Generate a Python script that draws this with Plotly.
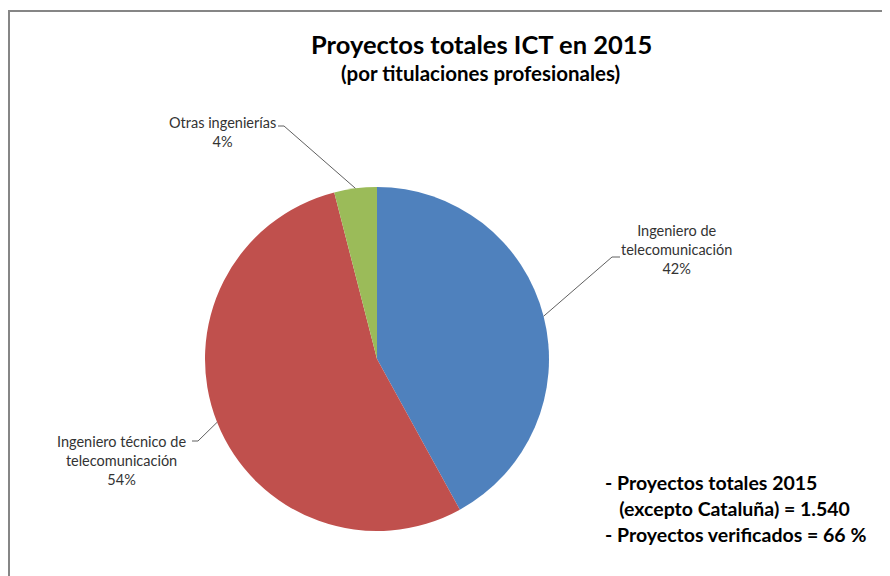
import math
import plotly.graph_objects as go

# ---- data ----
labels = ["Ingeniero de<br>telecomunicación", "Ingeniero técnico de<br>telecomunicación", "Otras ingenierías"]
values = [42, 54, 4]
colors = ["#4F81BD", "#C0504D", "#9BBB59"]
title_text = "Proyectos totales ICT en 2015"
subtitle_text = "(por titulaciones profesionales)"
note_lines = ["- Proyectos totales 2015", "   (excepto Cataluña) = 1.540", "- Proyectos verificados = 66 %"]

W, H = 890, 576
OFF = 8  # page body margin
CX, CY, R = 377, 359, 172  # pie centre / radius in screen pixels (layout)

def px(x):
    return (x - OFF) / W

def py(y):
    return 1 - (y - OFF) / H

FONT = "Lato, 'Open Sans', sans-serif"

fig = go.Figure(go.Pie(
    labels=[l.replace("<br>", " ") for l in labels],
    values=values,
    marker=dict(colors=colors, line=dict(width=0)),
    sort=False,
    direction="clockwise",
    rotation=0,
    textinfo="none",
    hoverinfo="label+percent",
    domain=dict(x=[px(CX - R), px(CX + R)], y=[py(CY + R), py(CY - R)]),
    showlegend=False,
))

# label layout: (text centre x, first-line y, elbow x, elbow y, horizontal end x)
label_layout = [
    (676, 230, 612, 257, 620),
    (122, 441, 198, 441, 192),
    (222, 122, 284, 126, 278),
]

annotations = []
shapes = []
total = sum(values)
cum = 0
for i, v in enumerate(values):
    mid = (cum + v / 2) / total * 2 * math.pi
    cum += v
    ex = CX + R * math.sin(mid)
    ey = CY - R * math.cos(mid)
    tx, ty, elx, ely, hx = label_layout[i]
    pct = round(v / total * 100)
    text = f"{labels[i]}<br>{pct}%"
    annotations.append(dict(
        x=px(tx), y=py(ty - 10), xref="paper", yref="paper",
        text=text, showarrow=False, xanchor="center", yanchor="top",
        font=dict(family=FONT, size=14.5, color="#333333"), align="center",
    ))
    shapes.append(dict(
        type="path", xref="paper", yref="paper",
        path=f"M {px(ex)} {py(ey)} L {px(elx)} {py(ely)} L {px(hx)} {py(ely)}",
        line=dict(color="#606060", width=1),
    ))

annotations.append(dict(
    x=px(481), y=py(44), xref="paper", yref="paper", text=f"<b>{title_text}</b>",
    showarrow=False, xanchor="center", yanchor="middle",
    font=dict(family=FONT, size=25.5, color="#000000"),
))
annotations.append(dict(
    x=px(480), y=py(73), xref="paper", yref="paper", text=f"<b>{subtitle_text}</b>",
    showarrow=False, xanchor="center", yanchor="middle",
    font=dict(family=FONT, size=20.5, color="#000000"),
))
for j, line in enumerate(note_lines):
    annotations.append(dict(
        x=px(603), y=py(482 + 26 * j), xref="paper", yref="paper",
        text=f"<b>{line.replace(' ', '&nbsp;')}</b>", showarrow=False,
        xanchor="left", yanchor="middle",
        font=dict(family=FONT, size=19.5, color="#000000"),
    ))

# chart border (right/bottom edges lie beyond the visible area)
shapes.append(dict(type="rect", xref="paper", yref="paper",
                   x0=px(9), x1=px(910), y0=py(600), y1=py(11),
                   line=dict(color="#868686", width=2)))

fig.update_layout(
    width=W, height=H,
    margin=dict(l=0, r=0, t=0, b=0),
    paper_bgcolor="white", plot_bgcolor="white",
    annotations=annotations, shapes=shapes,
)
fig.write_html("out.html")
